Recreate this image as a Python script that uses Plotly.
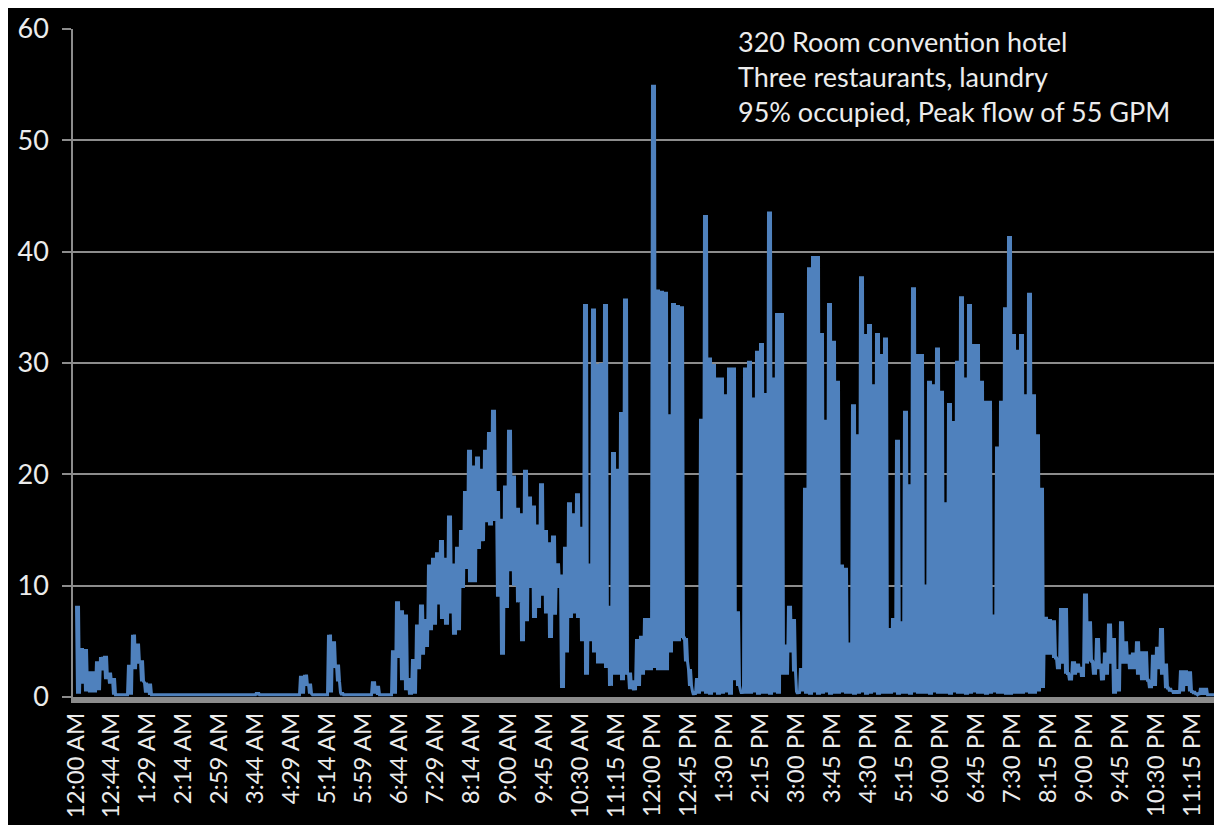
import plotly.graph_objects as go

# ---- data: flow (GPM) in 5-minute bins, upper (peak) and lower (trough) values ----
bin_minutes = 5

peak = [
    # 12 AM
    8.2, 4.4, 4.3, 2.3, 2.3, 3.2, 3.6, 3.7, 2.2, 1.7, 0.2, 0.2,
    # 1 AM
    0.2, 2.9, 5.6, 4.8, 3.3, 1.3, 1.2, 0.2, 0.2, 0.2, 0.2, 0.2,
    # 2 AM
    0.2, 0.2, 0.2, 0.2, 0.2, 0.2, 0.2, 0.2, 0.2, 0.2, 0.2, 0.2,
    # 3 AM
    0.2, 0.2, 0.2, 0.2, 0.2, 0.2, 0.2, 0.2, 0.2, 0.4, 0.2, 0.2,
    # 4 AM
    0.2, 0.2, 0.2, 0.2, 0.2, 0.2, 0.2, 0.2, 1.9, 2.0, 1.2, 0.2,
    # 5 AM
    0.2, 0.2, 0.2, 5.6, 5.0, 2.9, 0.4, 0.2, 0.2, 0.2, 0.2, 0.2,
    # 6 AM
    0.2, 0.2, 1.4, 1.0, 0.2, 0.2, 0.2, 4.2, 8.6, 7.8, 7.4, 1.7,
    # 7 AM
    3.4, 6.5, 8.3, 7.0, 11.9, 12.5, 13.0, 14.1, 12.5, 16.3, 12.0, 13.5,
    # 8 AM
    15.0, 18.5, 22.2, 20.8, 21.6, 20.5, 22.2, 23.8, 25.8, 18.5, 16.0, 19.0,
    # 9 AM
    24.0, 19.9, 17.0, 16.5, 20.4, 18.0, 17.2, 15.5, 19.2, 15.0, 13.9, 14.5,
    # 10 AM
    12.0, 11.0, 13.5, 17.5, 16.5, 18.3, 15.3, 35.3, 12.0, 34.9, 29.9, 30.0,
    # 11 AM
    35.3, 8.2, 22.0, 20.5, 25.6, 35.8, 2.2, 1.5, 5.2, 5.5, 7.1, 7.1,
    # 12 PM
    55.0, 36.6, 36.5, 36.4, 25.4, 35.4, 35.2, 35.1, 5.3, 2.5, 0.5, 1.7,
    # 1 PM
    25.0, 43.3, 30.5, 29.9, 28.7, 28.7, 27.2, 29.6, 29.6, 7.7, 0.6, 29.6,
    # 2 PM
    30.2, 26.9, 31.1, 31.8, 27.3, 43.6, 28.7, 34.5, 34.5, 4.7, 8.2, 7.0,
    # 3 PM
    0.5, 2.6, 18.8, 38.6, 39.6, 39.6, 32.7, 24.9, 35.4, 32.0, 28.4, 11.9,
    # 4 PM
    11.6, 4.9, 26.3, 23.6, 37.8, 32.6, 33.5, 28.1, 32.7, 30.8, 32.3, 6.2,
    # 5 PM
    7.1, 23.1, 6.8, 25.7, 19.1, 36.8, 30.8, 30.8, 10.1, 28.4, 28.1, 31.4,
    # 6 PM
    27.5, 17.5, 26.4, 24.8, 30.2, 36.0, 28.7, 35.3, 31.7, 31.7, 28.4, 26.6,
    # 7 PM
    26.6, 7.4, 22.5, 26.6, 35.0, 41.4, 32.6, 31.2, 32.6, 27.2, 36.3, 27.2,
    # 8 PM
    23.6, 18.8, 7.2, 7.0, 6.9, 3.5, 8.0, 8.0, 2.1, 3.2, 3.0, 2.7,
    # 9 PM
    9.3, 6.8, 3.2, 5.3, 3.0, 4.0, 6.6, 5.3, 2.5, 6.8, 5.0, 3.8,
    # 10 PM
    4.0, 5.0, 4.1, 4.1, 1.5, 3.8, 4.5, 6.2, 3.0, 0.8, 0.6, 0.6,
    # 11 PM
    2.4, 2.4, 2.3, 0.5, 0.3, 0.8, 0.8, 0.2, 0.2, 0.2, 1.5, 1.2,
]

trough = [
    # 12 AM
    0.3, 1.2, 0.5, 0.4, 0.4, 0.6, 2.4, 1.6, 1.2, 0.2, 0.2, 0.2,
    # 1 AM
    0.2, 0.2, 2.5, 3.0, 1.4, 0.4, 0.2, 0.2, 0.2, 0.2, 0.2, 0.2,
    # 2 AM
    0.2, 0.2, 0.2, 0.2, 0.2, 0.2, 0.2, 0.2, 0.2, 0.2, 0.2, 0.2,
    # 3 AM
    0.2, 0.2, 0.2, 0.2, 0.2, 0.2, 0.2, 0.2, 0.2, 0.2, 0.2, 0.2,
    # 4 AM
    0.2, 0.2, 0.2, 0.2, 0.2, 0.2, 0.2, 0.2, 0.3, 1.0, 0.3, 0.2,
    # 5 AM
    0.2, 0.2, 0.2, 0.4, 2.6, 1.4, 0.2, 0.2, 0.2, 0.2, 0.2, 0.2,
    # 6 AM
    0.2, 0.2, 0.3, 0.2, 0.2, 0.2, 0.2, 0.3, 3.5, 1.5, 0.6, 0.2,
    # 7 AM
    0.3, 2.5, 3.8, 4.5, 6.0, 6.5, 8.3, 7.0, 6.5, 7.5, 5.6, 6.0,
    # 8 AM
    9.8, 11.5, 10.3, 10.3, 13.3, 14.0, 15.7, 15.4, 15.8, 9.0, 3.8, 8.0,
    # 9 AM
    11.3, 10.0, 8.5, 5.0, 6.8, 9.8, 7.1, 8.0, 9.1, 7.5, 5.3, 7.4,
    # 10 AM
    9.8, 0.8, 4.0, 7.1, 7.5, 7.1, 5.0, 2.0, 5.0, 4.0, 3.0, 3.0,
    # 11 AM
    2.6, 1.0, 2.0, 2.0, 1.5, 2.0, 0.7, 0.6, 1.0, 2.0, 2.4, 2.4,
    # 12 PM
    2.6, 2.4, 2.4, 2.4, 4.0, 5.0, 5.0, 5.3, 3.2, 1.0, 0.2, 0.3,
    # 1 PM
    0.5, 0.3, 0.2, 0.4, 0.2, 0.3, 0.4, 0.2, 1.5, 1.0, 0.3, 0.3,
    # 2 PM
    0.3, 0.4, 0.2, 0.3, 0.3, 0.2, 0.4, 0.3, 2.0, 2.0, 4.0, 2.3,
    # 3 PM
    0.3, 0.5, 0.3, 0.2, 0.4, 0.2, 0.3, 0.4, 0.2, 0.3, 0.3, 0.4,
    # 4 PM
    0.3, 0.3, 0.2, 0.3, 0.4, 0.2, 0.3, 0.4, 0.2, 0.3, 0.3, 0.3,
    # 5 PM
    0.4, 0.2, 0.3, 0.3, 0.2, 0.4, 0.3, 0.3, 0.3, 0.2, 0.4, 0.3,
    # 6 PM
    0.3, 0.3, 0.2, 0.4, 0.3, 0.3, 0.2, 0.3, 0.4, 0.3, 0.3, 0.2,
    # 7 PM
    0.3, 0.4, 0.3, 0.3, 0.2, 0.2, 0.3, 0.3, 0.3, 0.4, 0.3, 0.3,
    # 8 PM
    0.5, 0.8, 3.8, 3.8, 3.5, 2.5, 3.0, 2.1, 1.5, 2.0, 2.2, 1.8,
    # 9 PM
    3.0, 3.2, 2.0, 2.5, 1.5, 2.0, 3.0, 0.3, 0.5, 3.0, 3.0, 2.5,
    # 10 PM
    2.5, 2.0, 1.5, 1.5, 0.8, 1.0, 2.5, 2.0, 0.8, 0.5, 0.3, 0.3,
    # 11 PM
    0.5, 1.0, 0.5, 0.3, 0.2, 0.2, 0.2, 0.2, 0.2, 0.2, 0.3, 0.3,
]

tick_labels = [
    "12:00 AM", "12:44 AM", "1:29 AM", "2:14 AM", "2:59 AM", "3:44 AM", "4:29 AM", "5:14 AM",
    "5:59 AM", "6:44 AM", "7:29 AM", "8:14 AM", "9:00 AM", "9:45 AM", "10:30 AM", "11:15 AM",
    "12:00 PM", "12:45 PM", "1:30 PM", "2:15 PM", "3:00 PM", "3:45 PM", "4:30 PM", "5:15 PM",
    "6:00 PM", "6:45 PM", "7:30 PM", "8:15 PM", "9:00 PM", "9:45 PM", "10:30 PM", "11:15 PM",
]

note_lines = [
    "320 Room convention hotel",
    "Three restaurants, laundry",
    "95% occupied, Peak flow of 55 GPM",
]


def label_to_minutes(label):
    clock, half = label.split()
    h, m = clock.split(":")
    h = int(h) % 12 + (12 if half == "PM" else 0)
    return h * 60 + int(m)


# minute-level oscillation: alternate peak / trough readings twice inside each 5-minute bin
xs, ys = [], []
for k, (hi, lo) in enumerate(zip(peak, trough)):
    start = k * bin_minutes
    for frac, val in ((0.125, hi), (0.375, lo), (0.625, hi), (0.875, lo)):
        xs.append(start + frac * bin_minutes)
        ys.append(val)

fig = go.Figure(
    go.Scatter(
        x=xs, y=ys, mode="lines",
        line=dict(color="#4F81BD", width=3, simplify=False),
        hoverinfo="skip",
    )
)

axis_gray = "#8c8c8c"
fig.update_layout(
    width=1222, height=825,
    margin=dict(l=65, r=0, t=21, b=136),
    paper_bgcolor="black", plot_bgcolor="black",
    showlegend=False,
    font=dict(family="Lato", color="#ececec"),
    xaxis=dict(
        range=[-3.75, 1442.5],
        tickmode="array",
        tickvals=[label_to_minutes(s) for s in tick_labels],
        ticktext=tick_labels,
        tickangle=-90,
        tickfont=dict(size=24, color="#ececec"),
        showgrid=False, zeroline=False,
        showline=True, linecolor=axis_gray, linewidth=6,
        ticks="",
    ),
    yaxis=dict(
        range=[0, 60], dtick=10,
        tickfont=dict(size=27, color="#ececec"),
        showgrid=True, gridcolor=axis_gray, gridwidth=1.5,
        zeroline=False,
        showline=True, linecolor=axis_gray, linewidth=1.5,
        ticks="outside", ticklen=9, tickcolor=axis_gray, tickwidth=1.5,
        ticklabelstandoff=8,
    ),
    annotations=[dict(
        text="<br>".join(note_lines),
        xref="paper", yref="paper", x=0.573, y=1.009,
        xanchor="left", yanchor="top", align="left",
        showarrow=False,
        font=dict(family="Lato", size=27, color="#ececec"),
    )],
)

fig.write_html("out.html")
